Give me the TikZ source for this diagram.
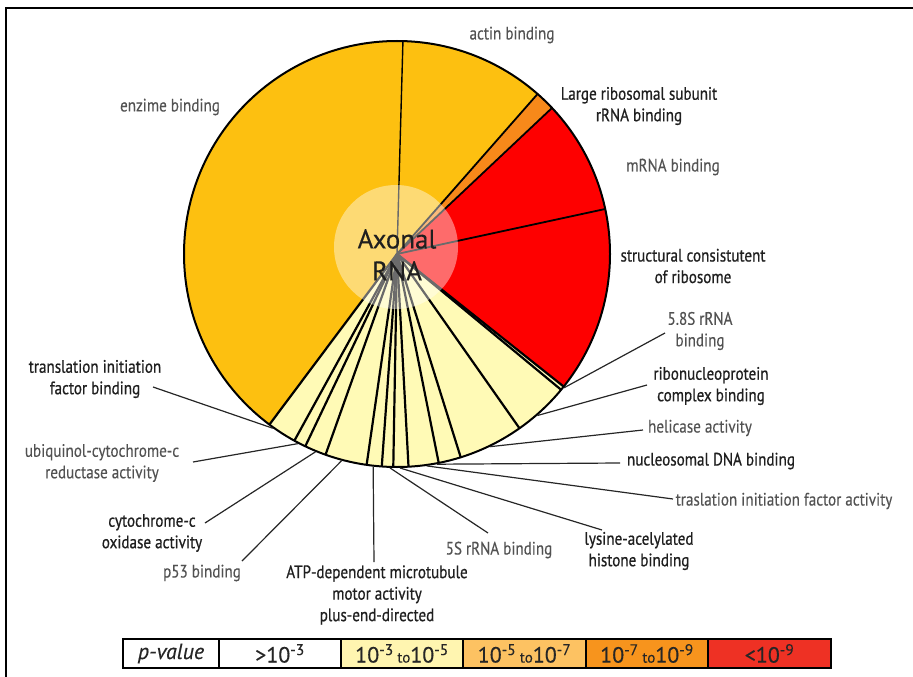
\documentclass[tikz,border=0pt]{standalone}
\usepackage{fontspec}
\setmainfont{PT Sans}[FakeStretch=0.84, FakeBold=0.25]
\newfontfamily\darkfont{PT Sans}[FakeStretch=0.84, FakeBold=0.7]
\newfontfamily\ctrfont{PT Sans}[FakeBold=0.3]
\usetikzlibrary{calc}
\definecolor{pgold}{HTML}{FDC010}
\definecolor{porange}{HTML}{F7891A}
\definecolor{pred}{HTML}{FE0000}
\definecolor{ppale}{HTML}{FFFAB6}
\definecolor{lpale}{HTML}{FFF5B0}
\definecolor{lgold}{HTML}{FDC262}
\definecolor{lorange}{HTML}{F7941D}
\definecolor{lred}{HTML}{EE3124}
\begin{document}
\begin{tikzpicture}[x=1pt,y=-1pt,
  lbg/.style={font=\fontsize{18}{21.5}\selectfont, align=center, inner sep=0pt, text=black!68},
  lbl/.style={lbg, font=\darkfont\fontsize{18}{21.5}\selectfont, text=black!88},
  leader/.style={line width=1.2pt, black!85},
  bnd/.style={line width=2.2pt},
  cell/.style={draw=black, line width=1.8pt, minimum height=29pt, inner sep=0pt, text=black!85,
    font=\ctrfont\fontsize{22}{22}\selectfont}]
\useasboundingbox (0,0) rectangle (913,677);
% frame
\draw[line width=2pt] (6,677) -- (6,8) -- (913,8);

% pie
\begin{scope}[shift={(397,254)}, x=1pt, y=1pt]
  \coordinate (O) at (0,0);
  \fill[pgold]   (O) -- (88.4:213) arc[start angle=88.4, end angle=233.2, radius=213] -- cycle;
  \fill[pgold]   (O) -- (48.7:213) arc[start angle=48.7, end angle=88.4, radius=213] -- cycle;
  \fill[porange] (O) -- (43.3:213) arc[start angle=43.3, end angle=48.7, radius=213] -- cycle;
  \fill[pred]    (O) -- (-38.5:213) arc[start angle=-38.5, end angle=43.3, radius=213] -- cycle;
  \fill[ppale]   (O) -- (-126.8:213) arc[start angle=-126.8, end angle=-38.5, radius=213] -- cycle;
  % boundaries
  \draw[line width=1.4pt] (O) -- (88.4:213);
  \draw[line width=1.8pt] (O) -- (48.7:213);
  \draw[line width=1.8pt] (O) -- (43.3:213);
  \draw[line width=1.8pt] (O) -- (12.2:213);
  \foreach \a in {-38.5,-39.6,-54.9,-72.6,-78.7,-86.9,-91,-94.1,-98.2,-109.6,-115.5,-118.8,-126.8}
    \draw[bnd] (O) -- (\a:213);
  \draw[line width=2pt] (O) circle[radius=213];
  % leader ends on the rim
  \coordinate (e-tifb) at (-125.5:214);
  \coordinate (e-ubq)  at (-117.6:214);
  \coordinate (e-cox)  at (-112.4:214);
  \coordinate (e-p53)  at (-105:214);
  \coordinate (e-atp)  at (-96.4:214);
  \coordinate (e-r5s)  at (-91.9:214);
  \coordinate (e-lah)  at (-89.2:214);
  \coordinate (e-tifa) at (-82:214);
  \coordinate (e-ndb)  at (-79.2:214);
  \coordinate (e-hel)  at (-64.2:214);
  \coordinate (e-rnp)  at (-49:214);
  \coordinate (e-r58)  at (-38.7:214);
\end{scope}

% centre
\fill[white, opacity=0.42] (396,247) circle[radius=62];
\node[font=\ctrfont\fontsize{27}{32}\selectfont, align=center, inner sep=0pt, text=black!88] (ctr) at (397,255) {Axonal\\RNA};

% labels
\node[lbg] (enz)  at (170,107) {enzime binding};
\node[lbg] (act)  at (512,35)  {actin binding};
\node[lbl] (lrs)  at (639,106) {Large ribosomal subunit\\rRNA binding};
\node[lbg] (mrna) at (673,167) {mRNA binding};
\node[lbl] (scr)  at (693,266) {structural consistutent\\of ribosome};
\node[lbg] (r58)  at (700,331) {5.8S rRNA\\binding};
\node[lbl] (rnp)  at (711,386) {ribonucleoprotein\\complex binding};
\node[lbg] (hel)  at (700,428) {helicase activity};
\node[lbl] (ndb)  at (711,461) {nucleosomal DNA binding};
\node[lbg] (tifa) at (784,501) {traslation initiation factor activity};
\node[lbl] (lah)  at (639,551) {lysine-acelylated\\histone binding};
\node[lbg] (r5s)  at (499,550) {5S rRNA binding};
\node[lbl] (atp)  at (377,595) {ATP-dependent microtubule\\motor activity\\plus-end-directed};
\node[lbg] (p53)  at (202,573) {p53 binding};
\node[lbl] (cox)  at (152,533) {cytochrome-c\\oxidase activity};
\node[lbg] (ubq)  at (102,463) {ubiquinol-cytochrome-c\\reductase activity};
\node[lbl] (tifb) at (95,379)  {translation initiation\\factor binding};

% leader line label-side ends
\coordinate (s-tifb) at (153,387);
\coordinate (s-ubq)  at (193,462);
\coordinate (s-cox)  at (205,523);
\coordinate (s-p53)  at (242,561);
\coordinate (s-atp)  at (374,562);
\coordinate (s-r5s)  at (488,533);
\coordinate (s-lah)  at (602,530);
\coordinate (s-tifa) at (673,499);
\coordinate (s-ndb)  at (620,463);
\coordinate (s-hel)  at (643,430);
\coordinate (s-rnp)  at (647,385);
\coordinate (s-r58)  at (665,333);
\foreach \n in {tifb,ubq,cox,p53,atp,r5s,lah,tifa,ndb,hel,rnp,r58}
  \draw[leader] (s-\n) -- (e-\n);

% legend
\node[cell, fill=white,   minimum width=96pt]  (c0) at (171,653.5)   {\textit{p-value}};
\node[cell, fill=white,   minimum width=122pt] (c1) at (280,653.5)   {>10\textsuperscript{-3}};
\node[cell, fill=lpale,   minimum width=122pt] (c2) at (402,653.5)   {10\textsuperscript{-3}\,{\fontsize{15}{15}\selectfont to}10\textsuperscript{-5}};
\node[cell, fill=lgold,   minimum width=123pt] (c3) at (524.5,653.5) {10\textsuperscript{-5}\,{\fontsize{15}{15}\selectfont to}10\textsuperscript{-7}};
\node[cell, fill=lorange, minimum width=122pt] (c4) at (647,653.5)   {10\textsuperscript{-7}\,{\fontsize{15}{15}\selectfont to}10\textsuperscript{-9}};
\node[cell, fill=lred,    minimum width=123pt] (c5) at (769.5,653.5) {<10\textsuperscript{-9}};
\end{tikzpicture}
\end{document}
